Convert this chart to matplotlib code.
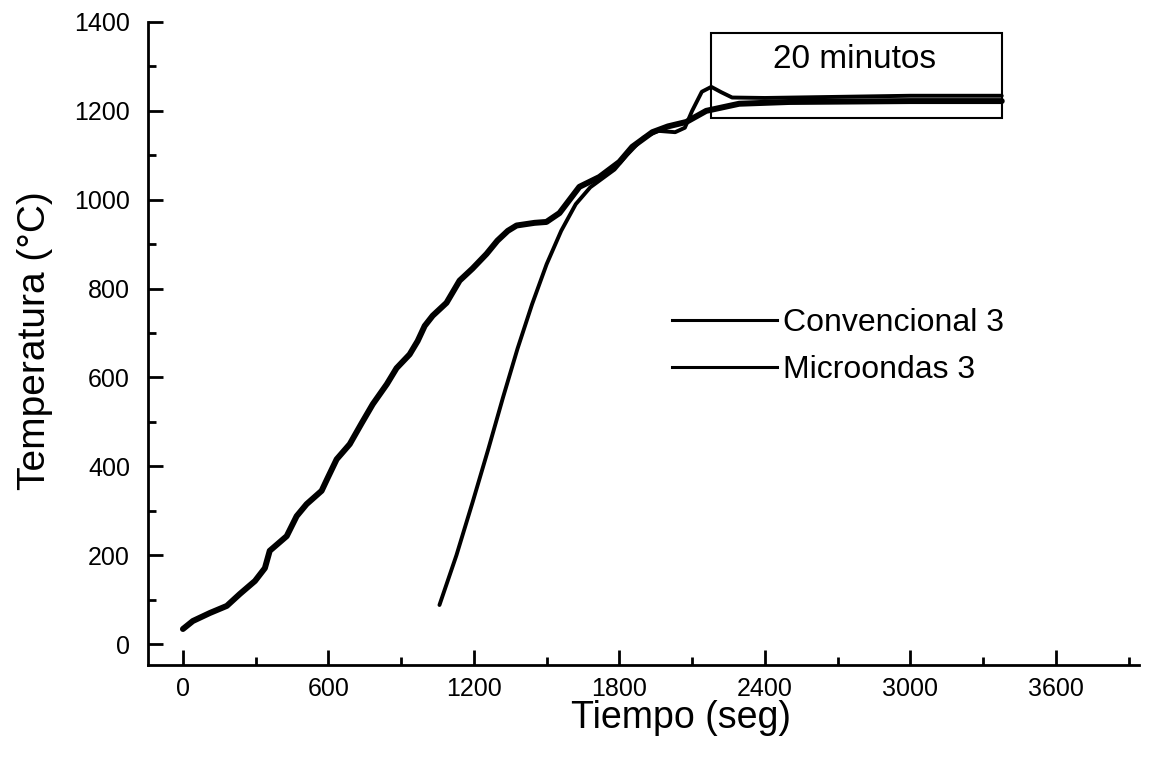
import matplotlib.pyplot as plt
from matplotlib.patches import Rectangle
from matplotlib.lines import Line2D
from matplotlib.ticker import MultipleLocator

plt.rcParams['font.family'] = ['Liberation Sans', 'DejaVu Sans']

# --- data ---
t_conv = [0, 41, 111, 181, 235, 297, 338, 358, 428, 469, 510, 572, 597, 634,
          688, 737, 783, 841, 881, 935, 968, 997, 1030, 1087, 1141, 1194, 1252,
          1297, 1340, 1376, 1450, 1499, 1553, 1635, 1717, 1800, 1853, 1936,
          2000, 2076, 2158, 2294, 2500, 3000, 3377]
T_conv = [34, 52, 70, 86, 113, 142, 171, 210, 243, 288, 315, 345, 374, 416,
          450, 497, 540, 585, 621, 652, 682, 716, 739, 768, 818, 845, 878,
          908, 930, 942, 948, 950, 970, 1029, 1051, 1085, 1119, 1152,
          1165, 1175, 1200, 1216, 1220, 1222, 1222]

t_micro = [1058, 1128, 1195, 1260, 1320, 1380, 1440, 1500, 1560, 1620, 1680,
           1730, 1780, 1830, 1900, 1960, 2030, 2070, 2100, 2140, 2179, 2220,
           2265, 2400, 3000, 3377]
T_micro = [88, 200, 320, 440, 555, 665, 765, 855, 930, 990, 1028,
           1048, 1068, 1100, 1140, 1155, 1152, 1162, 1200, 1243, 1254, 1242,
           1230, 1229, 1234, 1234]

labels = ['Convencional 3', 'Microondas 3']
box_text = '20 minutos'

fig = plt.figure(figsize=(11.51, 7.58), dpi=100)
ax = fig.add_axes([0.1286, 0.1227, 0.8614, 0.8483])

ax.plot(t_conv, T_conv, color='black', lw=4.3, solid_capstyle='round',
        solid_joinstyle='round')
ax.plot(t_micro, T_micro, color='black', lw=2.8, solid_capstyle='round',
        solid_joinstyle='round')

# box marking the 20 minute hold
ax.add_patch(Rectangle((2179, 1184), 3377 - 2179, 1375 - 1184,
                       fill=False, edgecolor='black', lw=1.5))
ax.text(2768, 1315, box_text, ha='center', va='center', fontsize=24)

handles = [Line2D([], [], color='black', lw=2.2),
           Line2D([], [], color='black', lw=2.2)]
ax.legend(handles, labels, loc='upper left', bbox_to_anchor=(0.528, 0.555),
          frameon=False, fontsize=23, handlelength=3.3, handletextpad=0.2,
          labelspacing=0.53, borderpad=0, borderaxespad=0)

ax.set_xlim(-144, 3945)
ax.set_ylim(-47, 1400)
ax.xaxis.set_major_locator(MultipleLocator(600))
ax.xaxis.set_minor_locator(MultipleLocator(300))
ax.yaxis.set_major_locator(MultipleLocator(200))
ax.yaxis.set_minor_locator(MultipleLocator(100))

for s in ['top', 'right']:
    ax.spines[s].set_visible(False)
for s in ['left', 'bottom']:
    ax.spines[s].set_linewidth(2)
ax.tick_params(which='major', direction='in', length=11, width=2)
ax.tick_params(which='minor', direction='in', length=6, width=2)
ax.tick_params(axis='y', which='major', pad=13, labelsize=18)
ax.tick_params(axis='x', which='major', pad=9, labelsize=18)

ax.set_xlabel('Tiempo (seg)', fontsize=27)
ax.set_ylabel('Temperatura (°C)', fontsize=28)
ax.xaxis.set_label_coords(0.538, -0.082)
ax.yaxis.set_label_coords(-0.114, 0.505)
ax.xaxis.label.set_va('center')
ax.yaxis.label.set_va('center')

plt.savefig('out.png', dpi=100, facecolor='white')
